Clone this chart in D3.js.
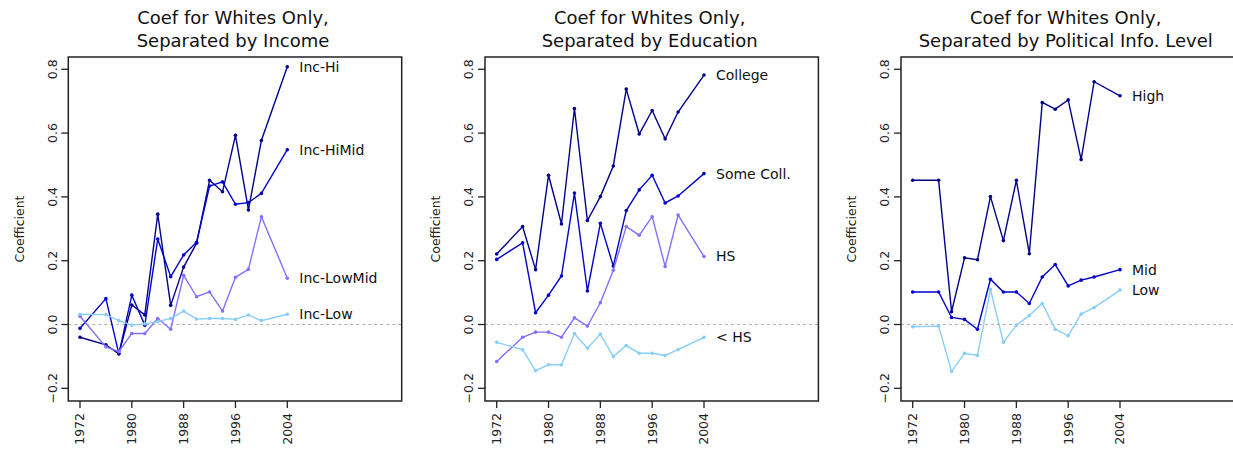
<!DOCTYPE html>
<html lang="en">
<head>
<meta charset="UTF-8">
<title>Coef for Whites Only</title>
<script src="https://d3js.org/d3.v7.min.js"></script>
<style>
  body { margin: 0; background: #fff; }
  svg text { font-family: "DejaVu Sans", sans-serif; fill: #111; }
  .title { font-size: 18px; }
  .tick-lab { font-size: 12.5px; fill: #222; }
  .ser-lab { font-size: 14px; }
</style>
</head>
<body>
<div id="chart"></div>
<script>
// survey years
const years = [1972, 1976, 1978, 1980, 1982, 1984, 1986, 1988, 1990, 1992, 1994, 1996, 1998, 2000, 2004];
const xTicks = [1972, 1980, 1988, 1996, 2004];
const yTicks = [-0.2, 0.0, 0.2, 0.4, 0.6, 0.8];

// income panel
const incHi     = [-0.040, -0.064, -0.092, 0.061, 0.030, 0.346, 0.060, 0.180, 0.255, 0.452, 0.416, 0.593, 0.359, 0.577, 0.808];
const incHiMid  = [-0.012, 0.081, -0.092, 0.092, -0.002, 0.268, 0.150, 0.218, 0.258, 0.434, 0.447, 0.377, 0.382, 0.411, 0.548];
const incLowMid = [0.026, -0.070, -0.085, -0.028, -0.028, 0.019, -0.015, 0.154, 0.087, 0.102, 0.042, 0.148, 0.173, 0.338, 0.145];
const incLow    = [0.032, 0.031, 0.012, -0.002, 0.002, 0.009, 0.019, 0.042, 0.017, 0.019, 0.019, 0.016, 0.030, 0.012, 0.032];

// education panel
const college  = [0.221, 0.307, 0.172, 0.468, 0.315, 0.677, 0.326, 0.401, 0.497, 0.738, 0.597, 0.671, 0.582, 0.666, 0.782];
const someColl = [0.204, 0.256, 0.037, 0.092, 0.152, 0.412, 0.105, 0.317, 0.183, 0.357, 0.422, 0.468, 0.381, 0.403, 0.473];
const hs       = [-0.116, -0.040, -0.024, -0.024, -0.040, 0.021, -0.005, 0.068, 0.170, 0.307, 0.280, 0.338, 0.182, 0.343, 0.213];
const ltHs     = [-0.056, -0.079, -0.145, -0.126, -0.126, -0.028, -0.074, -0.030, -0.100, -0.066, -0.090, -0.090, -0.097, -0.079, -0.040];

// political info panel
const infoHigh = [0.452, 0.452, 0.040, 0.209, 0.203, 0.401, 0.263, 0.452, 0.222, 0.696, 0.675, 0.704, 0.517, 0.761, 0.717];
const infoMid  = [0.102, 0.102, 0.022, 0.016, -0.015, 0.142, 0.102, 0.102, 0.066, 0.149, 0.188, 0.121, 0.139, 0.149, 0.172];
const infoLow  = [-0.007, -0.005, -0.147, -0.090, -0.097, 0.110, -0.056, -0.002, 0.028, 0.066, -0.015, -0.035, 0.033, 0.053, 0.108];

const cNavy = "#00008b", cBlue = "#0000cd", cPurple = "#8470ff", cLight = "#87cefa";

const panels = [
  {title: ["Coef for Whites Only,", "Separated by Income"], left: 68.3, series: [
    {name: "Inc-Hi", values: incHi, color: cNavy},
    {name: "Inc-HiMid", values: incHiMid, color: cBlue},
    {name: "Inc-LowMid", values: incLowMid, color: cPurple},
    {name: "Inc-Low", values: incLow, color: cLight}]},
  {title: ["Coef for Whites Only,", "Separated by Education"], left: 485, series: [
    {name: "College", values: college, color: cNavy},
    {name: "Some Coll.", values: someColl, color: cBlue},
    {name: "HS", values: hs, color: cPurple},
    {name: "< HS", values: ltHs, color: cLight}]},
  {title: ["Coef for Whites Only,", "Separated by Political Info. Level"], left: 901, series: [
    {name: "High", values: infoHigh, color: cNavy},
    {name: "Mid", values: infoMid, color: cBlue},
    {name: "Low", values: infoLow, color: cLight}]}
];

const W = 1233, H = 454;
const boxTop = 57, boxW = 333.4, boxH = 344;

const svg = d3.select("#chart").append("svg")
  .attr("width", W).attr("height", H);

const x = d3.scaleLinear().domain([1972, 2004]).range([11.7, 219]);
const y = d3.scaleLinear().domain([0, 0.8]).range([267.5, 12.3]);

panels.forEach(p => {
  const g = svg.append("g").attr("transform", `translate(${p.left},${boxTop})`);
  const cx = boxW / 2 - 2;

  // title
  p.title.forEach((t, i) => {
    g.append("text").attr("class", "title")
      .attr("x", cx).attr("y", -33 + i * 23)
      .attr("text-anchor", "middle").text(t);
  });

  // zero reference line
  g.append("line")
    .attr("x1", 0).attr("x2", boxW)
    .attr("y1", y(0)).attr("y2", y(0))
    .attr("stroke", "#b3b3b3").attr("stroke-width", 1)
    .attr("stroke-dasharray", "3,3");

  // lines + points
  const line = d3.line().x((d, i) => x(years[i])).y(d => y(d));
  p.series.forEach(s => {
    g.append("path").datum(s.values)
      .attr("d", line).attr("fill", "none")
      .attr("stroke", s.color).attr("stroke-width", 1.4);
    g.selectAll(null).data(s.values).enter().append("circle")
      .attr("cx", (d, i) => x(years[i])).attr("cy", d => y(d))
      .attr("r", 1.8).attr("fill", s.color);
    g.append("text").attr("class", "ser-lab")
      .attr("x", x(2004) + 12).attr("y", y(s.values[s.values.length - 1]))
      .attr("dy", "0.35em").text(s.name);
  });

  // box
  g.append("rect").attr("width", boxW).attr("height", boxH)
    .attr("fill", "none").attr("stroke", "#222").attr("stroke-width", 1.5);

  // x axis ticks
  xTicks.forEach(t => {
    g.append("line").attr("x1", x(t)).attr("x2", x(t))
      .attr("y1", boxH).attr("y2", boxH + 7)
      .attr("stroke", "#222").attr("stroke-width", 1.3);
    g.append("text").attr("class", "tick-lab")
      .attr("transform", `translate(${x(t)},${boxH + 12}) rotate(-90)`)
      .attr("text-anchor", "end").attr("dy", "0.35em").text(t);
  });

  // y axis ticks
  yTicks.forEach(t => {
    g.append("line").attr("x1", -7).attr("x2", 0)
      .attr("y1", y(t)).attr("y2", y(t))
      .attr("stroke", "#222").attr("stroke-width", 1.3);
    g.append("text").attr("class", "tick-lab")
      .attr("transform", `translate(-16,${y(t)}) rotate(-90)`)
      .attr("text-anchor", "middle").attr("dy", "0.35em").text(d3.format(".1f")(t));
  });

  g.append("text").attr("class", "tick-lab")
    .attr("transform", `translate(-49,${boxH / 2}) rotate(-90)`)
    .attr("text-anchor", "middle").attr("dy", "0.35em").text("Coefficient");
});
</script>
</body>
</html>
